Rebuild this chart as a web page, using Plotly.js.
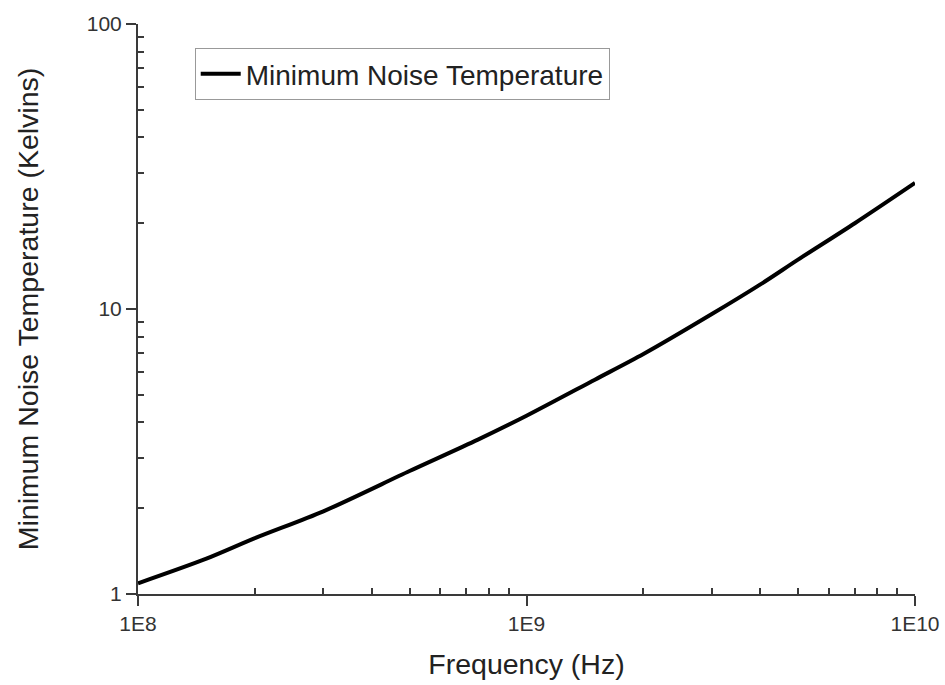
<!DOCTYPE html>
<html>
<head>
<meta charset="utf-8">
<script src="https://cdn.plot.ly/plotly-3.0.1.min.js"></script>
<style>html,body{margin:0;padding:0;background:#fff;}#chart{width:945px;height:685px;}</style>
</head>
<body>
<div id="chart"></div>
<script>
// Data
const frequencyHz = [1e8, 1.5e8, 2e8, 3e8, 5e8, 7.5e8, 1e9, 1.5e9, 2e9, 3e9, 4e9, 5e9, 7e9, 1e10];
const minNoiseTempK = [1.09, 1.33, 1.57, 1.95, 2.70, 3.48, 4.22, 5.65, 6.95, 9.6, 12.2, 14.9, 20.0, 27.7];
const seriesName = 'Minimum Noise Temperature';
const xTickVals = [1e8, 1e9, 1e10];
const xTickText = ['1E8', '1E9', '1E10'];
const yTickVals = [1, 10, 100];
const yTickText = ['1', '10', '100'];

function minorLogTicks(decades) {
  const out = [];
  decades.slice(0, -1).forEach(d => { for (let k = 2; k <= 9; k++) out.push(d * k); });
  return out;
}

const axisColor = '#3a3a3a';
const fontFam = '"Liberation Sans", Arial, sans-serif';

const trace = {
  x: frequencyHz, y: minNoiseTempK, name: seriesName,
  type: 'scatter', mode: 'lines', line: {color: '#000', width: 4, shape: 'spline', smoothing: 0.8},
  showlegend: true
};

const layout = {
  width: 945, height: 685,
  margin: {l: 138, r: 30, t: 24, b: 91},
  paper_bgcolor: '#fff', plot_bgcolor: '#fff',
  font: {family: fontFam, color: '#333'},
  showlegend: true,
  legend: {
    x: 0.073, y: 0.958, xanchor: 'left', yanchor: 'top',
    bordercolor: '#999', borderwidth: 1, bgcolor: '#fff',
    font: {size: 28, color: '#222', family: fontFam},
    itemwidth: 40, tracegroupgap: 0
  },
  xaxis: {
    type: 'log', range: [8, 10],
    showgrid: false, zeroline: false,
    showline: true, linecolor: axisColor, linewidth: 2,
    ticks: 'outside', ticklen: 10, tickwidth: 2, tickcolor: axisColor,
    tickmode: 'array', tickvals: xTickVals, ticktext: xTickText,
    tickfont: {size: 21, color: '#333'},
    minor: {ticks: 'inside', ticklen: 6, tickwidth: 2, tickcolor: axisColor,
            tickmode: 'array', tickvals: minorLogTicks(xTickVals), showgrid: false},
    title: {text: 'Frequency (Hz)', font: {size: 28.5, color: '#222'}, standoff: 20}
  },
  yaxis: {
    type: 'log', range: [0, 2],
    showgrid: false, zeroline: false,
    showline: true, linecolor: axisColor, linewidth: 2,
    ticks: 'outside', ticklen: 10, tickwidth: 2, tickcolor: axisColor,
    tickmode: 'array', tickvals: yTickVals, ticktext: yTickText,
    tickfont: {size: 21, color: '#333'},
    minor: {ticks: 'inside', ticklen: 6, tickwidth: 2, tickcolor: axisColor,
            tickmode: 'array', tickvals: minorLogTicks(yTickVals), showgrid: false},
    title: {text: 'Minimum Noise Temperature (Kelvins)', font: {size: 28.5, color: '#222'}, standoff: 40}
  }
};

Plotly.newPlot('chart', [trace], layout, {staticPlot: true, displayModeBar: false});
</script>
</body>
</html>
